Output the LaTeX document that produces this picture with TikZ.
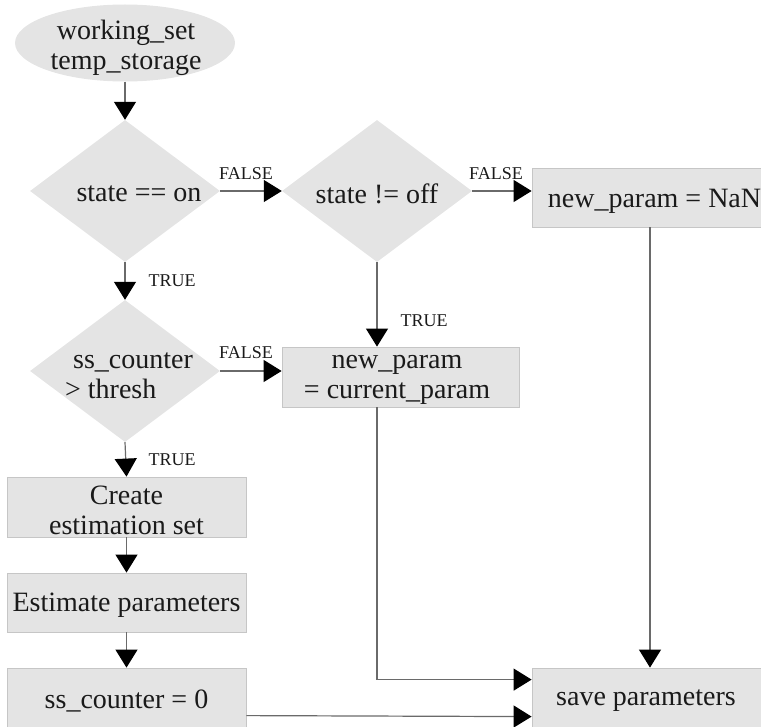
\documentclass[tikz,border=0pt]{standalone}
\usepackage{fontspec}
\setmainfont{Liberation Serif}
\usetikzlibrary{shapes.geometric,arrows.meta,calc}
\definecolor{nodefill}{HTML}{E4E4E4}
\definecolor{boxline}{HTML}{C6C6C6}
\definecolor{edgeline}{HTML}{6A6A6A}
\definecolor{inktext}{HTML}{1A1A1A}
\tikzset{
  caption/.style={inner sep=0pt, text=inktext, align=center, yshift=-3pt,
    font=\fontsize{28}{30}\selectfont},
  base/.style={fill=nodefill, inner sep=0pt},
  terminal/.style={base, ellipse, minimum width=220pt, minimum height=77pt},
  decision/.style={base, diamond, minimum width=190pt, minimum height=142pt},
  action/.style={base, rectangle, draw=boxline, line width=0.8pt,
    minimum width=239pt, minimum height=60pt},
  flow/.style={draw=edgeline, line width=1.2pt,
    -{Triangle[length=18pt,width=22pt,color=black]}},
  branch/.style={inner sep=0pt, text=inktext, font=\fontsize{18}{18}\selectfont},
}
\begin{document}
\begin{tikzpicture}[x=1pt,y=-1pt]
  \useasboundingbox (0,0) rectangle (761,727);
  \clip (0,0) rectangle (761,727);

  % start node
  \node[terminal] (start) at (125,43) {};
  \node[caption] (startt) at (126,45) {working\_set\\temp\_storage};

  % decisions
  \node[decision] (d1) at (125,191) {};
  \node[caption] (d1t) at (139,191) {state == on};
  \node[decision] (d2) at (377,191) {};
  \node[caption] (d2t) at (377,191) {state != off};
  \node[decision] (d3) at (125,371) {};
  \node[caption, align=left] (d3t) at (129,373) {\hspace*{8pt}ss\_counter\\> thresh};

  % actions
  \node[action, minimum width=236pt, minimum height=59pt] (nan) at (650,197.5) {};
  \node[caption] (nant) at (654.5,198) {new\_param = NaN};
  \node[action, minimum width=237pt] (cur) at (400.5,377) {};
  \node[caption] (curt) at (397,377) {new\_param\\= current\_param};
  \node[action] (create) at (126.5,507) {};
  \node[caption] (createt) at (create) {Create\\estimation set};
  \node[action, minimum height=59pt] (estimate) at (126.5,602.5) {};
  \node[caption] (estimatet) at (estimate) {Estimate parameters};
  \node[action] (zero) at (126.5,698) {};
  \node[caption] (zerot) at (zero) {ss\_counter = 0};
  \node[action, minimum width=236pt] (save) at (650,698) {};
  \node[caption] (savet) at (646,698) {save parameters};

  % connectors
  \draw[flow] (start) -- (d1);
  \draw[flow] (d1.east) -- (d2.west) node[branch] (f1) at (246,174) {FALSE};
  \draw[flow] (d2.east) -- (d2.east -| nan.west) node[branch] (f2) at (496,174) {FALSE};
  \draw[flow] (d1.south) -- (d3.north) node[branch] (t1) at (172,281) {TRUE};
  \draw[flow] (d2.south) -- (d2.south |- cur.north) node[branch] (t2) at (424,321) {TRUE};
  \draw[flow] (d3.east) -- (d3.east -| cur.west) node[branch] (f3) at (246,353) {FALSE};
  \draw[flow] (d3.south) -- (create.north) node[branch] (t3) at (172,460) {TRUE};
  \draw[flow] (create) -- (estimate);
  \draw[flow] (estimate) -- (zero);
  \draw[flow] (nan.south) -- (save.north);
  \draw[flow] (cur.south -| d2.south) |- ($(save.north west)+(0,12)$);
  \draw[flow] ($(zero.north east)+(0,48)$) -- ($(save.north west)+(0,49)$);
\end{tikzpicture}
\end{document}
